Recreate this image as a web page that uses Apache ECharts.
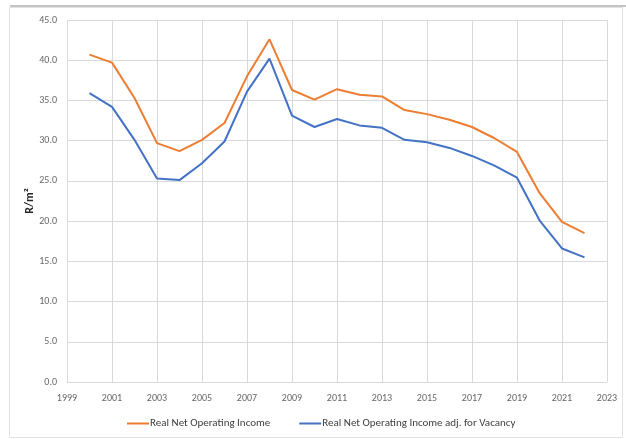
<!DOCTYPE html>
<html>
<head>
<meta charset="utf-8">
<script src="https://cdn.jsdelivr.net/npm/echarts@6/dist/echarts.min.js"></script>
<style>
  html, body { margin: 0; padding: 0; background: #fff; }
  #chart { width: 626px; height: 439px; }
</style>
</head>
<body>
<div id="chart"></div>
<script>
// Annual series, 2000-2022 (R per square metre)
const years = [2000, 2001, 2002, 2003, 2004, 2005, 2006, 2007, 2008, 2009, 2010, 2011,
               2012, 2013, 2014, 2015, 2016, 2017, 2018, 2019, 2020, 2021, 2022];
const realNOI = [40.7, 39.7, 35.3, 29.7, 28.7, 30.1, 32.2, 38.0, 42.6, 36.3, 35.1, 36.4,
                 35.7, 35.5, 33.8, 33.3, 32.6, 31.7, 30.3, 28.6, 23.5, 19.9, 18.5];
const realNOIVacancy = [35.9, 34.2, 30.1, 25.3, 25.1, 27.2, 29.9, 36.1, 40.2, 33.1, 31.7, 32.7,
                        31.9, 31.6, 30.1, 29.8, 29.1, 28.1, 26.9, 25.4, 20.1, 16.6, 15.5];
const seriesNames = ['Real Net Operating Income', 'Real Net Operating Income adj. for Vacancy'];
const yTicks = { min: 0, max: 45, step: 5 };
const xTicks = { first: 1999, last: 2023, step: 2 };

// x axis runs on an offset from the first tick year so ticks land on odd years
const toPoints = vals => years.map((y, i) => [y - xTicks.first, vals[i]]);

const font = 'Carlito, "Liberation Sans", sans-serif';
const gridColor = '#d9d9d9';

const chart = echarts.init(document.getElementById('chart'), null, { renderer: 'canvas' });
chart.setOption({
  animation: false,
  backgroundColor: '#fff',
  textStyle: { fontFamily: font },
  grid: { left: 67, right: 19, top: 20, bottom: 57 },
  xAxis: {
    type: 'value',
    min: 0,
    max: xTicks.last - xTicks.first,
    interval: xTicks.step,
    axisLine: { show: false },
    axisTick: { show: false },
    axisLabel: {
      color: '#666666', fontSize: 10, fontFamily: font, margin: 11,
      formatter: v => String(v + xTicks.first)
    },
    splitLine: { show: true, lineStyle: { color: gridColor, width: 1 } }
  },
  yAxis: {
    type: 'value',
    min: yTicks.min,
    max: yTicks.max,
    interval: yTicks.step,
    name: 'R/m²',
    nameLocation: 'middle',
    nameGap: 31,
    nameMoveOverlap: false,
    nameTextStyle: { color: '#262626', fontSize: 12, fontWeight: 'bold', fontFamily: font },
    axisLine: { show: false },
    axisTick: { show: false },
    axisLabel: {
      color: '#666666', fontSize: 10, fontFamily: font, margin: 10,
      formatter: v => v.toFixed(1)
    },
    splitLine: { show: true, lineStyle: { color: gridColor, width: 1 } }
  },
  legend: {
    top: 418,
    left: 127,
    padding: 0,
    itemGap: 29,
    itemWidth: 22,
    itemHeight: 2,
    icon: 'rect',
    textStyle: { color: '#404040', fontSize: 11, fontFamily: font, padding: [0, 0, 0, -4] },
    data: seriesNames
  },
  series: [
    {
      name: seriesNames[0],
      type: 'line',
      data: toPoints(realNOI),
      symbol: 'none',
      lineStyle: { color: '#ED7D31', width: 2 },
      itemStyle: { color: '#ED7D31' }
    },
    {
      name: seriesNames[1],
      type: 'line',
      data: toPoints(realNOIVacancy),
      symbol: 'none',
      lineStyle: { color: '#4472C4', width: 2 },
      itemStyle: { color: '#4472C4' }
    }
  ],
  graphic: [
    {
      type: 'rect',
      shape: { x: 9.5, y: 7.5, width: 613, height: 430 },
      style: { fill: 'none', stroke: '#e3e3e3', lineWidth: 1 },
      z: -1
    },
    {
      type: 'line',
      shape: { x1: 10, y1: 6, x2: 626, y2: 6 },
      style: { stroke: '#8a8a8a', lineWidth: 1 }
    }
  ]
});
</script>
</body>
</html>
